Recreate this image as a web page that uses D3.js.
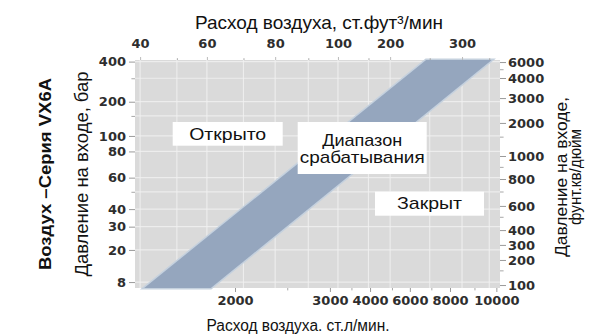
<!DOCTYPE html>
<html><head><meta charset="utf-8">
<script src="https://cdn.jsdelivr.net/npm/d3@7"></script>
<style>body{margin:0;background:#fff}svg{display:block}</style>
</head><body>
<svg id="c" width="608" height="336"></svg>
<script>
// ---------- data ----------
const topTicksScfm = [40, 60, 80, 100, 200, 300];
const bottomTicksLpm = [2000, 3000, 4000, 6000, 8000, 10000];
const leftTicksBar = [400, 200, 100, 80, 60, 40, 30, 20, 8];
const rightTicksPsi = [6000, 4000, 3000, 2000, 1000, 800, 600, 400, 300, 200, 100];
const scfmMinor = [50, 70, 90, 150, 250, 350];
const lpmMinor = [2500, 3500, 5000, 7000, 9000];
const psiMinor = [5000, 1500, 900, 700, 500, 150];
const barMinor = [300, 150, 50];
const scfmExtent = [38.8, 372];
const lpmExtent = [1100, 10100];
const barExtent = [420, 7.5];
const psiExtent = [6200, 92];
// operating band: pressure (bar) at bottom/top, flow (scfm) of its two edges
const bandPressureBar = [7.5, 420];
const bandOpenEdgeScfm = [41, 245];
const bandClosedEdgeScfm = [61, 355];
const regionNames = ["Открыто", "Диапазон|срабатывания", "Закрыт"];

// ---------- layout (schematic, non-uniform axes) ----------
const P = {l: 135, t: 60, w: 365, h: 228};
const topPos = [0.014, 0.197, 0.384, 0.556, 0.699, 0.896];
const bottomPos = [0.274, 0.534, 0.644, 0.753, 0.863, 0.99];
const barPos = [0.007, 0.183, 0.333, 0.401, 0.516, 0.654, 0.731, 0.833, 0.974];
const psiPos = [0.009, 0.079, 0.167, 0.276, 0.421, 0.522, 0.640, 0.746, 0.811, 0.877, 0.987];
const boxes = [
  {x: 172.7, y: 122, w: 110, h: 23.7, fy: [139.5], tl: [77]},
  {x: 297.7, y: 122, w: 129, h: 52, fy: [145.5, 163], tl: [80, 125]},
  {x: 375, y: 191.7, w: 109, h: 24, fy: [209], tl: [65]}
];

const svg = d3.select("#c");
const piece = (ext, ticks, pos, len) =>
  d3.scaleLog().domain([ext[0], ...ticks, ext[1]]).range([0, ...pos, 1].map(f => f * len));

const xTop = piece(scfmExtent, topTicksScfm, topPos, P.w);
const xBot = piece(lpmExtent, bottomTicksLpm, bottomPos, P.w);
const yBar = piece(barExtent, leftTicksBar, barPos, P.h);
const yPsi = piece(psiExtent, rightTicksPsi, psiPos, P.h);

const g = svg.append("g").attr("transform", `translate(${P.l},${P.t})`);
g.append("rect").attr("width", P.w).attr("height", P.h).attr("fill", "#dadada");

// grid
const vgrid = [...topTicksScfm, ...scfmMinor];
g.selectAll(".vg").data(vgrid).join("line")
  .attr("x1", d => xTop(d)).attr("x2", d => xTop(d)).attr("y1", 0).attr("y2", P.h)
  .attr("stroke", "#f2f2f2").attr("stroke-width", 1.2).attr("opacity", 0.8);
const hgrid = [...leftTicksBar, ...barMinor];
g.selectAll(".hg").data(hgrid).join("line")
  .attr("y1", d => yBar(d)).attr("y2", d => yBar(d)).attr("x1", 0).attr("x2", P.w)
  .attr("stroke", "#f2f2f2").attr("stroke-width", 1.2).attr("opacity", 0.8);

// band
const bandPts = [
  [bandOpenEdgeScfm[0], bandPressureBar[0]],
  [bandOpenEdgeScfm[1], bandPressureBar[1]],
  [bandClosedEdgeScfm[1], bandPressureBar[1]],
  [bandClosedEdgeScfm[0], bandPressureBar[0]]
];
const bandLine = d3.line().x(d => xTop(d[0])).y(d => yBar(d[1]));
g.append("path").attr("d", bandLine(bandPts) + "Z")
  .attr("fill", "#95a6be").attr("stroke", "#c5d1de").attr("stroke-width", 3);
g.append("path").attr("d", bandLine(bandPts) + "Z").attr("fill", "#95a6be");

// axes
const tickFont = "DejaVu Sans, sans-serif";
const tickCol = "#2e2e2e";
function axis(gen, scale, ticks, minor, tr, size) {
  const a = svg.append("g").attr("transform", tr);
  a.call(gen(scale).tickValues(ticks).tickFormat(d3.format("d")).tickSize(size).tickPadding(3));
  a.select(".domain").remove();
  a.selectAll(".tick line").attr("stroke", "#9a9a9a");
  a.selectAll("text").attr("font-family", tickFont).attr("font-weight", "bold")
    .attr("font-size", 13).attr("fill", tickCol);
  const m = svg.append("g").attr("transform", tr);
  m.call(gen(scale).tickValues(minor).tickFormat("").tickSize(size * 0.6));
  m.select(".domain").remove();
  m.selectAll(".tick line").attr("stroke", "#a8a8a8");
  return a;
}
axis(d3.axisLeft, yBar, leftTicksBar, barMinor, `translate(${P.l},${P.t})`, 6);
axis(d3.axisRight, yPsi, rightTicksPsi, psiMinor, `translate(${P.l + P.w},${P.t})`, 6)
  .selectAll("text").attr("x", 8);
const ta = axis(d3.axisTop, xTop, topTicksScfm, scfmMinor, `translate(${P.l},${P.t})`, 3);
ta.selectAll("text").attr("y", -12);
ta.selectAll(".tick line").attr("stroke", "#bbb");
const ba = axis(d3.axisBottom, xBot, bottomTicksLpm, lpmMinor, `translate(${P.l},${P.t + P.h})`, 4);
ba.selectAll("text").attr("y", 8);

// titles
const tf = "Liberation Sans, Arial, sans-serif";
function title(tr, size, len, txt, bold) {
  return svg.append("text").attr("transform", tr).attr("text-anchor", "middle")
    .attr("font-family", tf).attr("font-size", size).attr("fill", "#111")
    .attr("font-weight", bold ? "bold" : null)
    .attr("textLength", len).attr("lengthAdjust", "spacingAndGlyphs").text(txt);
}
title("translate(319,29)", 18.5, 248, "Расход воздуха, ст.фут³/мин");
title("translate(298,331)", 16, 183, "Расход воздуха. ст.л/мин.");
title("translate(51,174) rotate(-90)", 17, 192, "Воздух –Серия VX6A", true);
title("translate(88,174) rotate(-90)", 18, 205, "Давление на входе, бар");
title("translate(567,177) rotate(-90)", 17, 160, "Давление на входе,");
title("translate(581,177) rotate(-90)", 17, 96, "фунт.кв/дюйм");

// region labels
regionNames.forEach((name, i) => {
  const b = boxes[i];
  svg.append("rect").attr("x", b.x).attr("y", b.y).attr("width", b.w).attr("height", b.h).attr("fill", "#fff");
  name.split("|").forEach((line, j) => {
    svg.append("text").attr("x", b.x + b.w / 2).attr("y", b.fy[j]).attr("text-anchor", "middle")
      .attr("font-family", tf).attr("font-size", 17).attr("fill", "#111")
      .attr("textLength", b.tl[j]).attr("lengthAdjust", "spacingAndGlyphs").text(line);
  });
});
</script>
</body></html>
